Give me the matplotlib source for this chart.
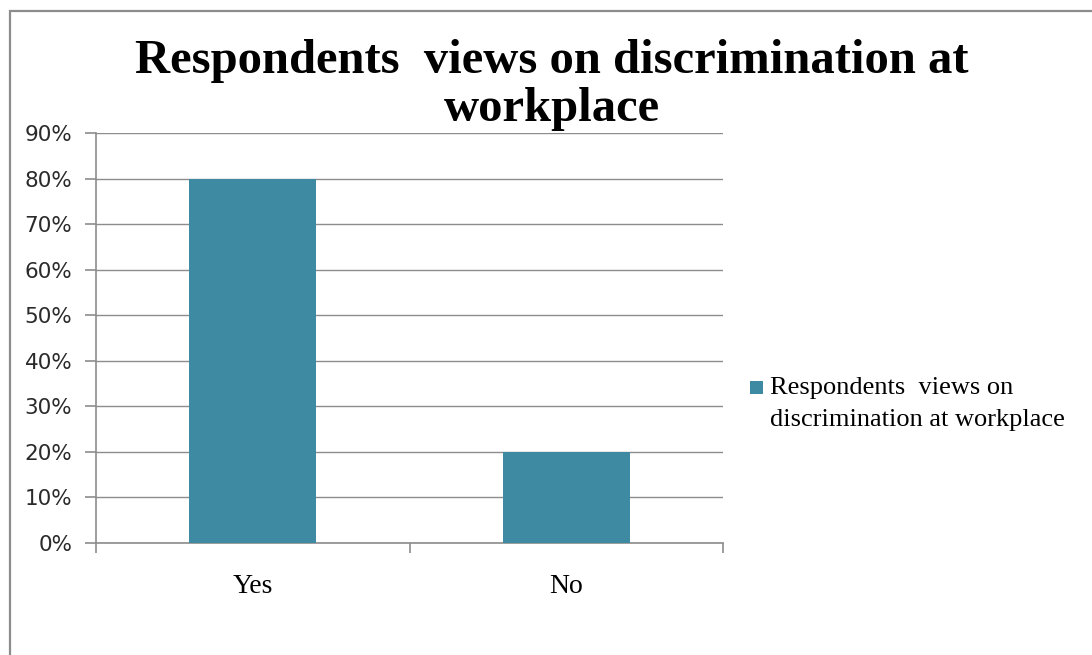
import matplotlib
matplotlib.use("Agg")
import matplotlib.pyplot as plt
from matplotlib.patches import Rectangle
from matplotlib.container import BarContainer
from matplotlib.legend_handler import HandlerPatch, update_from_first_child
from matplotlib.ticker import FixedLocator, PercentFormatter

categories = ["Yes", "No"]
values = [0.80, 0.20]
series_name = "Respondents  views on\ndiscrimination at workplace"
title = "Respondents  views on discrimination at\nworkplace"
yticks = [0.0, 0.1, 0.2, 0.3, 0.4, 0.5, 0.6, 0.7, 0.8, 0.9]

W, H = 1092, 655
fig = plt.figure(figsize=(W / 100, H / 100), dpi=100)
fig.patch.set_facecolor("white")

# outer frame
fig.add_artist(Rectangle((9.5 / W, -0.1), 1.2, 1 - 10.5 / H + 0.1,
                         transform=fig.transFigure, fill=False,
                         edgecolor="#8c8c8c", linewidth=1.6))

ax = fig.add_axes([96 / W, 1 - 543 / H, (723 - 96) / W, (543 - 133) / H])
bar_color = "#3d8aa2"
x = list(range(len(categories)))
ax.bar(x, values, width=0.405, color=bar_color, zorder=3, label=series_name)

ax.set_xlim(-0.5, len(categories) - 0.5)
ax.set_ylim(0, 0.9)
ax.yaxis.set_major_locator(FixedLocator(yticks))
ax.yaxis.set_major_formatter(PercentFormatter(1.0, decimals=0))
ax.grid(axis="y", color="#8c8c8c", linewidth=1.0, zorder=0)
ax.set_axisbelow(True)

for s in ["top", "right"]:
    ax.spines[s].set_visible(False)
for s in ["left", "bottom"]:
    ax.spines[s].set_color("#8c8c8c")
    ax.spines[s].set_linewidth(1.2)

ax.set_xticks(x)
ax.set_xticklabels(categories, fontfamily="Liberation Serif", fontsize=20)
ax.xaxis.set_minor_locator(FixedLocator([-0.5, 0.5, 1.5]))
ax.tick_params(axis="x", which="major", length=0, pad=22)
ax.tick_params(axis="x", which="minor", length=7, color="#8c8c8c", width=1.2)
ax.tick_params(axis="y", length=8, color="#8c8c8c", width=1.2, pad=9,
               labelsize=15.5, labelcolor="#2a2a2a")
for lbl in ax.get_yticklabels():
    lbl.set_fontfamily("DejaVu Sans")

fig.text(552 / W, 1 - 85 / H, title, ha="center", va="center",
         fontfamily="Liberation Serif", fontweight="bold", fontsize=35,
         linespacing=1.11)


def top_square(legend, orig_handle, xdescent, ydescent, width, height, fontsize):
    size = 9.5
    return Rectangle((-xdescent, -ydescent + height / 2 - size / 2 + 11.0),
                     size, size)


leg = ax.legend(loc="center left", bbox_to_anchor=(750 / W, 1 - 404 / H),
                bbox_transform=fig.transFigure, frameon=False,
                prop={"family": "Liberation Serif", "size": 19},
                handlelength=0.55, handleheight=0.55, handletextpad=0.2,
                borderaxespad=0, borderpad=0,
                handler_map={BarContainer: HandlerPatch(
                    patch_func=top_square, update_func=update_from_first_child)})
for t in leg.get_texts():
    t.set_linespacing(1.6)

fig.savefig("out.png", dpi=100, facecolor="white")
